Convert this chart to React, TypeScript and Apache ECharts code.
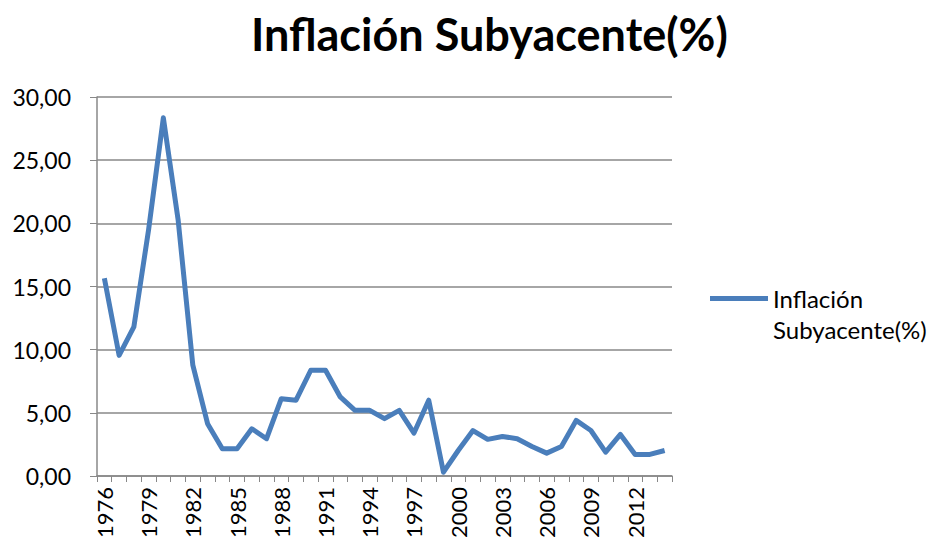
import React, { useEffect, useRef } from "react";
import * as echarts from "echarts";

const years: string[] = [
  "1976","1977","1978","1979","1980","1981","1982","1983","1984","1985",
  "1986","1987","1988","1989","1990","1991","1992","1993","1994","1995",
  "1996","1997","1998","1999","2000","2001","2002","2003","2004","2005",
  "2006","2007","2008","2009","2010","2011","2012","2013","2014",
];

const inflacion: number[] = [
  15.65, 9.55, 11.8, 19.5, 28.35, 20.3, 8.77, 4.14, 2.16, 2.16,
  3.74, 2.95, 6.12, 6.0, 8.37, 8.37, 6.26, 5.2, 5.2, 4.54,
  5.2, 3.4, 6.0, 0.3, 2.02, 3.6, 2.9, 3.13, 2.95, 2.34,
  1.81, 2.34, 4.4, 3.6, 1.89, 3.29, 1.71, 1.71, 2.02,
];

const titleText = "Inflación Subyacente(%)";
const seriesName = "Inflación Subyacente(%)";

export default function App() {
  const ref = useRef<HTMLDivElement>(null);
  useEffect(() => {
    if (!ref.current) return;
    const chart = echarts.init(ref.current, null, { renderer: "svg" });
    chart.setOption({
      animation: false,
      backgroundColor: "#ffffff",
      title: {
        text: titleText,
        left: 246,
        top: 6,
        textStyle: {
          fontFamily: "Lato",
          fontWeight: "bold",
          fontSize: 45,
          color: "#000000",
        },
      },
      grid: { left: 97, right: 265, top: 97, bottom: 69, containLabel: false },
      legend: {
        left: 705,
        top: 247,
        icon: "rect",
        itemWidth: 58,
        itemHeight: 5,
        itemGap: 0,
        formatter: () => "\nInflación\nSubyacente(%)",
        textStyle: {
          fontFamily: "Lato",
          fontSize: 24,
          color: "#000000",
          lineHeight: 31,
        },
        data: [{ name: seriesName, itemStyle: { color: "#4a7ebb" } }],
      },
      xAxis: {
        type: "category",
        data: years,
        boundaryGap: true,
        axisLine: { lineStyle: { color: "#888888", width: 1.5 } },
        axisTick: { show: true, interval: 0, length: 6, lineStyle: { color: "#888888" } },
        axisLabel: {
          interval: 2,
          rotate: 90,
          margin: 11,
          fontFamily: "Lato",
          fontSize: 22,
          color: "#000000",
        },
      },
      yAxis: {
        type: "value",
        min: 0,
        max: 30,
        interval: 5,
        axisLine: { show: true, lineStyle: { color: "#888888", width: 1.5 } },
        axisTick: { show: true, length: 7, lineStyle: { color: "#888888" } },
        splitLine: { lineStyle: { color: "#888888", width: 1.5 } },
        axisLabel: {
          margin: 26,
          fontFamily: "Lato",
          fontSize: 23,
          color: "#000000",
          formatter: (v: number) => v.toFixed(2).replace(".", ","),
        },
      },
      series: [
        {
          name: seriesName,
          type: "line",
          data: inflacion,
          showSymbol: false,
          symbol: "none",
          lineStyle: { color: "#4a7ebb", width: 5, join: "round" },
          itemStyle: { color: "#4a7ebb" },
        },
      ],
    });
    return () => chart.dispose();
  }, []);
  return <div ref={ref} style={{ width: 937, height: 545, position: "absolute", left: 0, top: 0 }} />;
}
